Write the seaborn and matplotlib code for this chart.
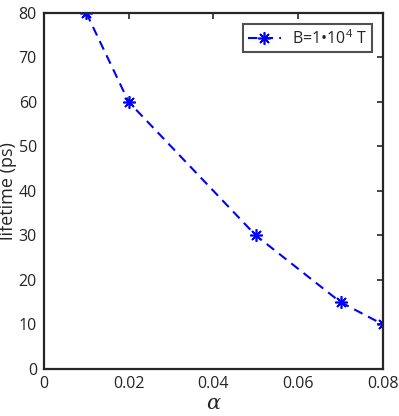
import matplotlib
matplotlib.use("Agg")
import matplotlib.pyplot as plt
import seaborn as sns
import pandas as pd

# values
alpha = [0.01, 0.02, 0.05, 0.07, 0.08]
lifetime = [80, 60, 30, 15, 10]
series_label = r"B=1•10$^4$ T"

xticks = [0, 0.02, 0.04, 0.06, 0.08]
xticklabels = ["0", "0.02", "0.04", "0.06", "0.08"]
yticks = [0, 10, 20, 30, 40, 50, 60, 70, 80]

sns.set_style("white")
plt.rcParams["font.family"] = ["Open Sans", "DejaVu Sans"]
plt.rcParams["mathtext.fontset"] = "custom"
plt.rcParams["mathtext.rm"] = "Open Sans"
plt.rcParams["mathtext.it"] = "DejaVu Serif:italic"

df = pd.DataFrame({"alpha": alpha, "lifetime": lifetime})

fig = plt.figure(figsize=(3.99, 4.16), dpi=100)
ax = fig.add_axes([0.110, 0.113, 0.850, 0.856])

sns.lineplot(data=df, x="alpha", y="lifetime", ax=ax, color="#0000ff",
             linestyle=(0, (4.5, 3)), linewidth=1.5, marker=(8, 2, 0),
             markersize=9, markeredgewidth=1.2, markeredgecolor="#0000ff",
             markerfacecolor="#0000ff", label=series_label)

ax.set_xlim(0, 0.08)
ax.set_ylim(0, 80)
ax.set_xticks(xticks)
ax.set_xticklabels(xticklabels)
ax.set_yticks(yticks)
ax.tick_params(direction="in", length=4, width=1.2, top=True, right=True,
               labelsize=11.5, colors="#262626", pad=5)
for s in ax.spines.values():
    s.set_linewidth(1.6)
    s.set_color("#262626")
    s.set_visible(True)

ax.set_xlabel(r"$\alpha$", fontsize=15, color="#262626", labelpad=1)
ax.set_ylabel("lifetime (ps)", fontsize=13, color="#262626", labelpad=1)

leg = ax.legend(loc="upper right", fontsize=11.5, frameon=True, fancybox=False,
                borderpad=0.3, handlelength=2.1, handletextpad=0.7,
                borderaxespad=0.7)
leg.get_frame().set_edgecolor("#262626")
leg.get_frame().set_linewidth(1.5)

fig.savefig("out.png", dpi=100)
